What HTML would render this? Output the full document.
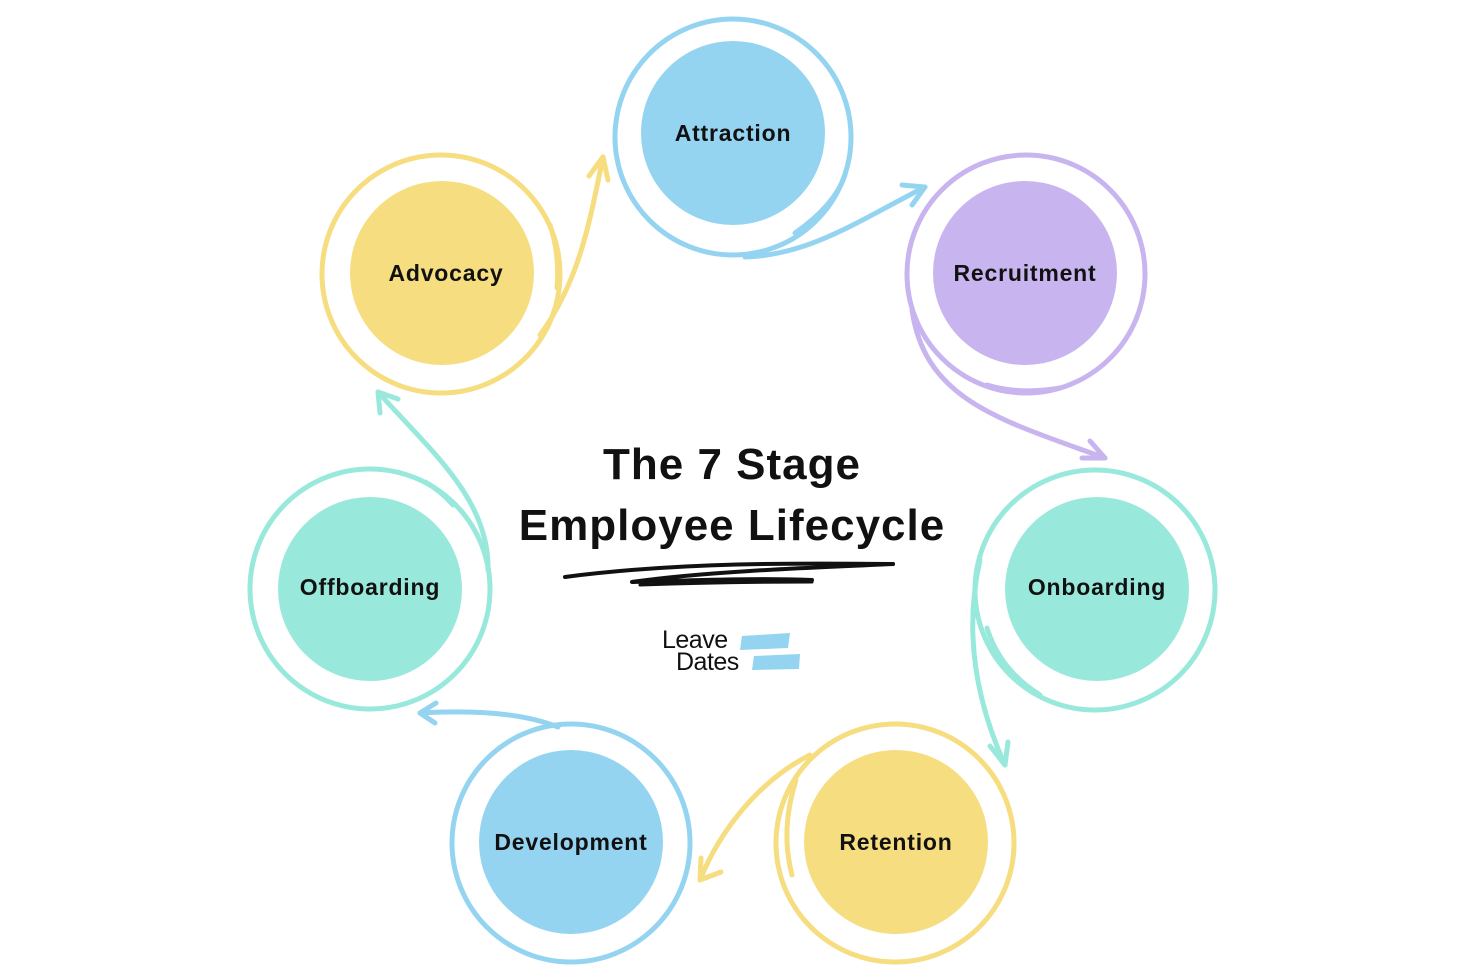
<!DOCTYPE html>
<html><head><meta charset="utf-8"><style>
body{margin:0;background:#fff;}
svg{display:block;}
text{font-family:"Liberation Sans",sans-serif;font-weight:bold;fill:#111;}
</style></head><body>
<svg width="1464" height="977" viewBox="0 0 1464 977">
<g fill="none" stroke-width="5" stroke-linecap="round" stroke-linejoin="round">
<!-- Attraction -->
<g stroke="#94d4f1">
<circle cx="733" cy="137" r="118"/>
<path d="M795,233 Q835,205 845,175"/>
<path d="M745,257 C810,255 860,220 925,187"/>
<path d="M925,187 L902,185 M925,187 L912,205"/>
</g>
<!-- Recruitment -->
<g stroke="#c8b5ef">
<circle cx="1026" cy="274" r="119"/>
<path d="M987,385 Q1020,395 1060,388"/>
<path d="M912,310 C925,400 1000,420 1105,458"/>
<path d="M1105,458 L1090,441 M1105,458 L1082,458"/>
</g>
<!-- Onboarding -->
<g stroke="#98e9dc">
<circle cx="1095" cy="590" r="120"/>
<path d="M987,628 Q1000,670 1040,695"/>
<path d="M980,560 C962,640 980,710 1005,765"/>
<path d="M1005,765 L990,746 M1005,765 L1008,742"/>
</g>
<!-- Retention -->
<g stroke="#f6dd7f">
<circle cx="895" cy="843" r="119"/>
<path d="M796,780 Q780,830 792,875"/>
<path d="M810,755 C760,780 720,830 700,880"/>
<path d="M700,880 L701,858 M700,880 L721,872"/>
</g>
<!-- Development -->
<g stroke="#94d4f1">
<circle cx="571" cy="843" r="119"/>
<path d="M558,727 C520,712 470,710 420,713"/>
<path d="M420,713 L436,703 M420,713 L435,723"/>
</g>
<!-- Offboarding -->
<g stroke="#98e9dc">
<circle cx="370" cy="589" r="120"/>
<path d="M453,505 Q440,490 425,482"/>
<path d="M488,570 C490,500 430,450 378,392"/>
<path d="M378,392 L380,413 M378,392 L398,399"/>
</g>
<!-- Advocacy -->
<g stroke="#f6dd7f">
<circle cx="441" cy="274" r="119"/>
<path d="M557,288 Q560,255 550,225"/>
<path d="M540,335 C580,280 590,220 603,157"/>
<path d="M603,157 L589,176 M603,157 L608,180"/>
</g>
<!-- underline scribble -->
<g stroke="#111">
<path d="M565,577 C680,562 800,563 893,564" stroke-width="4"/>
<path d="M893,564 C800,568 700,572 632,582 C700,580 760,578 812,580" stroke-width="4"/>
<path d="M640,585 C700,583 760,582 812,582" stroke-width="3"/>
</g>
</g>
<g>
<circle cx="733" cy="133" r="92" fill="#94d4f1"/>
<circle cx="1025" cy="273" r="92" fill="#c8b5ef"/>
<circle cx="1097" cy="589" r="92" fill="#98e9dc"/>
<circle cx="896" cy="842" r="92" fill="#f6dd7f"/>
<circle cx="571" cy="842" r="92" fill="#94d4f1"/>
<circle cx="370" cy="589" r="92" fill="#98e9dc"/>
<circle cx="442" cy="273" r="92" fill="#f6dd7f"/>
</g>
<g font-size="23" text-anchor="middle" letter-spacing="0.8">
<text x="733" y="141">Attraction</text>
<text x="1025" y="281">Recruitment</text>
<text x="1097" y="595">Onboarding</text>
<text x="896" y="850">Retention</text>
<text x="571" y="850">Development</text>
<text x="370" y="595">Offboarding</text>
<text x="446" y="281">Advocacy</text>
</g>
<g font-size="44" text-anchor="middle" letter-spacing="1">
<text x="732" y="479">The 7 Stage</text>
<text x="732" y="540">Employee Lifecycle</text>
</g>
<path d="M742,636 L790,633 L788,648 L740,650 Z" fill="#94d4f1"/>
<path d="M754,656 L800,654 L799,669 L752,670 Z" fill="#94d4f1"/>
<text x="662" y="648" font-size="25" letter-spacing="-0.5" style="font-weight:normal" fill="#222">Leave</text>
<text x="676" y="670" font-size="25" letter-spacing="-0.5" style="font-weight:normal" fill="#222">Dates</text>
</svg>
</body></html>
